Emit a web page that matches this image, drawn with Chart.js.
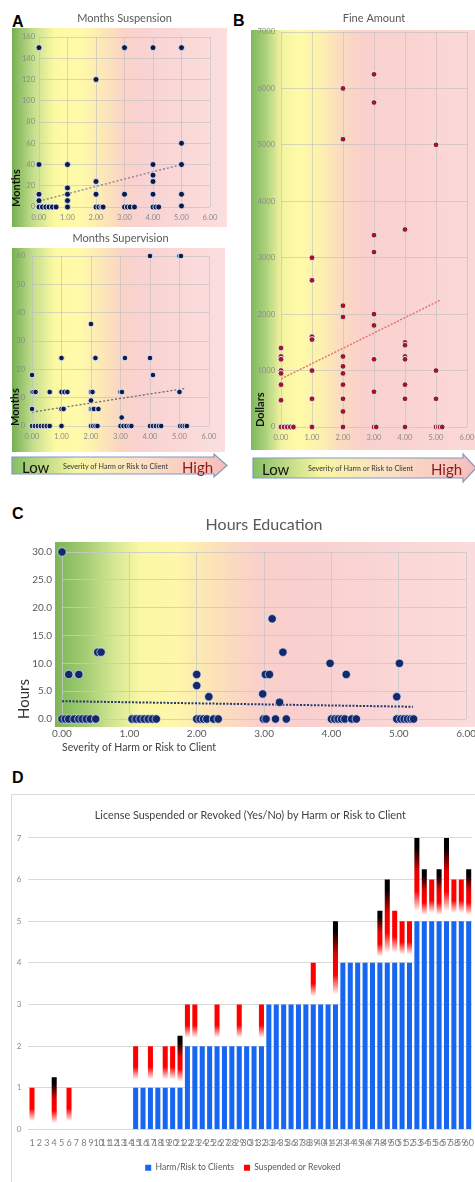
<!DOCTYPE html>
<html><head><meta charset="utf-8">
<script src="https://cdn.jsdelivr.net/npm/chart.js@4.4.0/dist/chart.umd.min.js"></script>
<style>
html,body{margin:0;padding:0;background:#fff;}
body{width:475px;height:1182px;overflow:hidden;position:relative;font-family:Lato,'Open Sans',sans-serif;}
canvas,svg,.pl,.box{position:absolute;}
.pl{font-family:'Liberation Sans',Arial,sans-serif;font-weight:bold;font-size:16px;color:#000;line-height:1;}
</style></head><body>
<div class="pl" style="left:12px;top:14px">A</div>
<div class="pl" style="left:233px;top:13px">B</div>
<div class="pl" style="left:12px;top:506px">C</div>
<div class="pl" style="left:12px;top:770px">D</div>
<canvas id="cSusp" width="235" height="232" style="left:0;top:0"></canvas>
<canvas id="cSup" width="235" height="226" style="left:0;top:230px"></canvas>
<canvas id="cFine" width="245" height="455" style="left:240px;top:0"></canvas>
<canvas id="cEdu" width="485" height="255" style="left:0;top:505px"></canvas>
<div class="box" style="left:11px;top:794px;width:480px;height:400px;border:1px solid #d9d9d9"></div>
<canvas id="cLic" width="470" height="387" style="left:12px;top:795px"></canvas>

<svg style="left:0;top:450px" width="235" height="32">
  <defs><linearGradient id="ag1" x1="0" x2="1" y1="0" y2="0">
    <stop offset="0" stop-color="#86c064"/><stop offset="0.3" stop-color="#f7f5a2"/>
    <stop offset="0.6" stop-color="#fbe0c6"/><stop offset="1" stop-color="#f6bdbd"/></linearGradient></defs>
  <polygon points="12,7 214,7 214,4 227,15.5 214,27 214,24 12,24" fill="url(#ag1)" stroke="#8496bf" stroke-width="1.2"/>
  <text x="22" y="23" font-family="Lato, sans-serif" font-size="15" fill="#111">Low</text>
  <text x="63" y="18.5" font-family="Lato, sans-serif" font-size="7" fill="#333" textLength="105" lengthAdjust="spacingAndGlyphs">Severity of Harm or Risk to Client</text>
  <text x="182" y="23" font-family="Lato, sans-serif" font-size="15" fill="#8b1a1a">High</text>
</svg>
<svg style="left:240px;top:450px" width="245" height="35">
  <defs><linearGradient id="ag2" x1="0" x2="1" y1="0" y2="0">
    <stop offset="0" stop-color="#86c064"/><stop offset="0.3" stop-color="#f7f5a2"/>
    <stop offset="0.6" stop-color="#fbe0c6"/><stop offset="1" stop-color="#f6bdbd"/></linearGradient></defs>
  <polygon points="13,8 223,8 223,4 236,18 223,32 223,28 13,28" fill="url(#ag2)" stroke="#8496bf" stroke-width="1.2"/>
  <text x="22" y="25" font-family="Lato, sans-serif" font-size="15" fill="#111">Low</text>
  <text x="68" y="21" font-family="Lato, sans-serif" font-size="7" fill="#333" textLength="105" lengthAdjust="spacingAndGlyphs">Severity of Harm or Risk to Client</text>
  <text x="191" y="25" font-family="Lato, sans-serif" font-size="15" fill="#8b1a1a">High</text>
</svg>

<script>
// ---------- DATA ----------
// Panel A (top): Months Suspension
const suspSeverity = [0,0,0,0,0,0.12,0.24,0.35,0.47,0.6, 1,1,1,1,1, 2,2,2,2,2.1,2.2,2.25, 3,3,3,3.1,3.2,3.35, 4,4,4,4,4,4,4.1,4.2, 5,5,5,5,5];
const suspMonths   = [150,40,12,6,0,0,0,0,0,0, 40,18,12,6,0, 120,24,12,0,0,0,0, 150,12,0,0,0,0, 150,40,30,24,12,0,0,0, 150,60,40,12,1];
const suspTrendX = [0, 5];
const suspTrendY = [5.6, 40];

// Panel A (bottom): Months Supervision
const supSeverity = [0,0,0.05,0.12,0,0.6,0,0.1,0.2,0.3,0.4,0.5,0.6, 1,1,1.1,1.2,1,1.07,1, 2,2.15,2,2.05,2,2,2.05,2.1,2.25,2,2.07,2.15,2.22, 3.15,3,3.05,3.04,3,3.1,3.2,3.3,3.37, 4,4,4.1,4,4.1,4.2,4.3,4.38, 5,5.05,5,5.02,5.1,5.18,5.25];
const supMonths   = [18,12,12,12,6,12,0,0,0,0,0,0,0, 24,12,12,12,6,6,0, 36,24,12,12,9,6,6,6,6,0,0,0,0, 24,12,12,3,0,0,0,0,0, 60,24,18,0,0,0,0,0, 60,60,12,0,0,0,0];
const supTrendX = [0, 5.17];
const supTrendY = [4.9, 13.2];

// Panel B: Fine Amount
const fineSeverity = [0,0,0,0,0,0,0, 0,0.1,0.2,0.3,0.4, 1,1,1,1,1,1,1, 2,2,2,2,2,2,2,2,2,2,2, 3,3,3,3,3,3,3,3,3,3.07, 4,4,4,4,4,4,4,4, 5,5,5,5,5.07,5.13,5.2];
const fineDollars  = [1400,1250,1200,1000,950,750,475, 0,0,0,0,0, 3000,2600,1600,1550,1000,500,0, 6000,5100,2150,1950,1250,1075,950,750,500,275,0, 6250,5750,3400,3100,2000,1800,1200,625,0,0, 3500,1500,1450,1250,1200,750,500,0, 5000,1000,500,0,0,0,0];
const fineTrendX = [0, 5.12];
const fineTrendY = [852, 2243];

// Panel C: Hours Education
const eduSeverity = [0,0.1,0.25,0.53,0.58, 0,0.05,0.1,0.18,0.25,0.3,0.36,0.42,0.5, 1.04,1.1,1.16,1.22,1.28,1.34,1.4, 2,2,2.18, 2,2.05,2.1,2.15,2.25,2.32, 3.12,3.28,3.02,3.08,2.98,3.23, 2.99,3.03,3.17,3.33, 3.98,4.22, 4,4.05,4.1,4.15,4.2,4.3,4.37, 5.01,4.97, 4.97,5.03,5.08,5.13,5.18,5.22];
const eduHours    = [30,8,8,12,12, 0,0,0,0,0,0,0,0,0, 0,0,0,0,0,0,0, 8,6,4, 0,0,0,0,0,0, 18,12,8,8,4.5,3, 0,0,0,0, 10,8, 0,0,0,0,0,0,0, 10,4, 0,0,0,0,0,0];
const eduTrendX = [0, 5.21];
const eduTrendY = [3.2, 2.2];

// Panel D: License Suspended or Revoked
const caseLabels = ['1','2','3','4','5','6','7','8','9','10','11','12','13','14','15','16','17','18','19','20','21','22','23','24','25','26','27','28','29','30','31','32','33','34','35','36','37','38','39','40','41','42','43','44','45','46','47','48','49','50','51','52','53','54','55','56','57','58','59','60'];
const harmRisk  = [0,0,0,0,0,0,0,0,0,0,0,0,0,0, 1,1,1,1,1,1,1, 2,2,2,2,2,2,2,2,2,2,2, 3,3,3,3,3,3,3,3,3,3, 4,4,4,4,4,4,4,4,4,4, 5,5,5,5,5,5,5,5];
const suspended = [1,0,0,1.25,0,1,0,0,0,0,0,0,0,0, 1,0,1,0,1,1,1.25, 1,1,0,0,1,0,0,1,0,0,1, 0,0,0,0,0,0,1,0,0,2, 0,0,0,0,0,1.25,2,1.25,1,1, 2,1.25,1,1.25,2,1,1,1.25];
const blackTipCases = [4,21,42,48,49,53,54,56,57,60];

// ---------- STYLE ----------
const FONT = "Lato, 'Open Sans', sans-serif";
const NARROW = "'Liberation Sans Narrow', Lato, sans-serif";

const bgPlugin = {
  id: 'bgGrad',
  beforeDraw(chart, args, o) {
    if (!o || !o.rect) return;
    const c = chart.ctx, r = o.rect;
    const g = c.createLinearGradient(r[0], 0, r[2], 0);
    o.stops.forEach(s => g.addColorStop(s[0], s[1]));
    c.save(); c.fillStyle = g; c.fillRect(r[0], r[1], r[2]-r[0], r[3]-r[1]); c.restore();
  }
};

const stopsA = [[0,'#76b053'],[0.1,'#c5df8e'],[0.2,'#fdf9a2'],[0.32,'#fffaaa'],[0.42,'#fce8b6'],[0.52,'#fad3c8'],[0.6,'#f9d2d2'],[1,'#fcdede']];
const stopsB = [[0,'#7fb85c'],[0.06,'#a9d07a'],[0.13,'#f3f3a0'],[0.2,'#fefba8'],[0.3,'#fdf0ae'],[0.38,'#fbdcc0'],[0.48,'#f9d0cc'],[1,'#fbd9d9']];
const stopsC = [[0,'#7cb657'],[0.07,'#a3cc72'],[0.14,'#d6e894'],[0.2,'#fbf8a4'],[0.28,'#fef7aa'],[0.37,'#fce2b8'],[0.47,'#fad0cb'],[0.6,'#f9d0d0'],[1,'#fbdcdc']];

function pts(xs, ys) { return xs.map((x, i) => ({x: x, y: ys[i]})); }

function scatter(id, s) {
  return new Chart(document.getElementById(id), {
    type: 'scatter',
    data: { datasets: [
      { data: pts(s.xs, s.ys), pointRadius: s.r, pointHoverRadius: s.r, clip: false,
        backgroundColor: s.color, borderColor: s.halo, borderWidth: 1, order: 0 },
      { type: 'line', data: pts(s.tx, s.ty), borderColor: s.tColor, borderWidth: s.tWidth,
        borderDash: s.dash, pointRadius: 0, fill: false, order: 1 }
    ]},
    options: {
      responsive: false, animation: false, devicePixelRatio: 1,
      layout: { padding: s.pad },
      plugins: {
        legend: { display: false }, tooltip: { enabled: false },
        title: { display: true, text: s.title, fullSize: false, color: '#595959',
          font: { family: FONT, size: s.titleSize, weight: 'normal', lineHeight: 1.2 },
          padding: s.titlePad },
        bgGrad: { rect: s.bg, stops: s.stops }
      },
      scales: {
        x: { type: 'linear', min: 0, max: 6,
          ticks: { stepSize: 1, callback: v => v.toFixed(2), color: s.tickColor,
            font: { family: FONT, size: s.tickSize }, padding: s.xPad, maxRotation: 0 },
          grid: { color: s.gridColor, drawTicks: false }, border: { display: false },
          title: s.xTitle || { display: false },
          afterFit: sc => { sc.height = s.xH; } },
        y: { min: 0, max: s.yMax,
          ticks: { stepSize: s.yStep, callback: s.yFmt, color: s.tickColor,
            font: { family: FONT, size: s.tickSize }, padding: s.yPad },
          grid: { color: s.gridColor, drawTicks: false }, border: { display: false },
          title: { display: true, text: s.yTitle, align: 'start', color: s.yTitleColor,
            font: { family: FONT, size: s.yTitleSize, weight: s.yTitleWeight, lineHeight: 1.2 },
            padding: { top: s.yTitlePad, bottom: 0 } },
          afterFit: sc => { sc.width = s.yW; } }
      }
    },
    plugins: [bgPlugin]
  });
}

// Panel A top
scatter('cSusp', {
  xs: suspSeverity, ys: suspMonths, tx: suspTrendX, ty: suspTrendY,
  r: 3, color: '#0b1a4a', halo: 'rgba(235,240,255,0.85)',
  tColor: '#8c7898', tWidth: 1.3, dash: [2, 2],
  title: 'Months Suspension', titleSize: 11, titlePad: { top: 12, bottom: 11.8 },
  pad: { left: 0, right: 25, top: 0, bottom: 0 },
  bg: [12, 28, 227, 227], stops: stopsA,
  tickColor: '#8a8a8a', tickSize: 7.5, gridColor: 'rgba(190,190,190,0.6)',
  xPad: 6, yPad: 4, xH: 25, yW: 39, yMax: 160, yStep: 20, yFmt: v => v,
  yTitle: 'Months', yTitleColor: '#111', yTitleSize: 11, yTitleWeight: 'bold', yTitlePad: 9.4
});

// Panel A bottom
scatter('cSup', {
  xs: supSeverity, ys: supMonths, tx: supTrendX, ty: supTrendY,
  r: 2.8, color: '#0b1a4a', halo: 'rgba(235,240,255,0.85)',
  tColor: '#6a6a6a', tWidth: 1.3, dash: [2, 2],
  title: 'Months Supervision', titleSize: 11, titlePad: { top: 1.5, bottom: 11.3 },
  pad: { left: 0, right: 26, top: 0, bottom: 0 },
  bg: [12, 18, 225, 222], stops: stopsA,
  tickColor: '#8a8a8a', tickSize: 7.5, gridColor: 'rgba(190,190,190,0.6)',
  xPad: 6, yPad: 7, xH: 30, yW: 32, yMax: 60, yStep: 10, yFmt: v => v,
  yTitle: 'Months', yTitleColor: '#111', yTitleSize: 11, yTitleWeight: 'bold', yTitlePad: 8.4
});

// Panel B
scatter('cFine', {
  xs: fineSeverity, ys: fineDollars, tx: fineTrendX, ty: fineTrendY,
  r: 2.9, color: '#a3122e', halo: 'rgba(225,250,240,0.9)',
  tColor: '#e07070', tWidth: 1.4, dash: [2, 1.5],
  title: 'Fine Amount', titleSize: 11, titlePad: { top: 12, bottom: 6.8 },
  pad: { left: 0, right: 18, top: 0, bottom: 0 },
  bg: [11, 30, 245, 450], stops: stopsB,
  tickColor: '#8a8a8a', tickSize: 7.5, gridColor: 'rgba(190,190,190,0.6)',
  xPad: 6, yPad: 6, xH: 28, yW: 41, yMax: 7000, yStep: 1000, yFmt: v => v,
  yTitle: 'Dollars', yTitleColor: '#111', yTitleSize: 11, yTitleWeight: 'bold', yTitlePad: 13.4
});

// Panel C
scatter('cEdu', {
  xs: eduSeverity, ys: eduHours, tx: eduTrendX, ty: eduTrendY,
  r: 4.2, color: '#14296a', halo: 'rgba(220,230,255,0.7)',
  tColor: '#25396f', tWidth: 2, dash: [2, 1.5],
  title: 'Hours Education', titleSize: 16, titlePad: { top: 10.4, bottom: 17.4 },
  pad: { left: 0, right: 18, top: 0, bottom: 0 },
  bg: [55, 37, 485, 222], stops: stopsC,
  tickColor: '#595959', tickSize: 10, gridColor: 'rgba(200,200,200,0.8)',
  xPad: 9, yPad: 10, xH: 41, yW: 62, yMax: 30, yStep: 5, yFmt: v => v.toFixed(1),
  xTitle: { display: true, text: 'Severity of Harm or Risk to Client', align: 'start', color: '#404040',
    font: { family: FONT, size: 10.5, lineHeight: 1.2 }, padding: { top: 0, bottom: 6 } },
  yTitle: 'Hours', yTitleColor: '#333', yTitleSize: 15, yTitleWeight: 'normal', yTitlePad: 15
});

// Panel D
const RED = '#ff0000';
function redFill(ctx) {
  if (ctx.type !== 'data') return RED;
  const chart = ctx.chart;
  if (!chart.chartArea) return RED;
  const i = ctx.dataIndex;
  const v = suspended[i];
  if (!v) return RED;
  const ys = chart.scales.y;
  const y0 = ys.getPixelForValue(harmRisk[i]);
  const y1 = ys.getPixelForValue(harmRisk[i] + v);
  const g = chart.ctx.createLinearGradient(0, y0, 0, y1);
  if (blackTipCases.indexOf(i + 1) >= 0) {
    g.addColorStop(0, 'rgba(255,0,0,0)');
    g.addColorStop(0.12, 'rgba(255,0,0,0)');
    g.addColorStop(0.36, 'rgba(255,0,0,1)');
    g.addColorStop(0.6, 'rgba(230,0,0,1)');
    g.addColorStop(0.88, '#000000');
    g.addColorStop(1, '#000000');
  } else {
    g.addColorStop(0, 'rgba(255,0,0,0)');
    g.addColorStop(0.2, 'rgba(255,0,0,0)');
    g.addColorStop(0.5, 'rgba(255,0,0,1)');
    g.addColorStop(1, 'rgba(255,0,0,1)');
  }
  return g;
}

new Chart(document.getElementById('cLic'), {
  type: 'bar',
  data: {
    labels: caseLabels,
    datasets: [
      { label: 'Harm/Risk to Clients', data: harmRisk, backgroundColor: '#1766f2', borderWidth: 0,
        barPercentage: 0.68, categoryPercentage: 1 },
      { label: 'Suspended or Revoked', data: suspended, backgroundColor: redFill, borderWidth: 0,
        barPercentage: 0.68, categoryPercentage: 1 }
    ]
  },
  options: {
    responsive: false, animation: false, devicePixelRatio: 1,
    layout: { padding: { left: 0, right: 8.5, top: 0, bottom: 0 } },
    plugins: {
      tooltip: { enabled: false },
      title: { display: true, text: 'License Suspended or Revoked (Yes/No) by Harm or Risk to Client',
        fullSize: false, color: '#404040', font: { family: FONT, size: 10.8, weight: 'normal', lineHeight: 1.2 },
        padding: { top: 14, bottom: 16 } },
      legend: { position: 'bottom',
        labels: { boxWidth: 6, boxHeight: 6, padding: 10, color: '#595959',
          font: { family: FONT, size: 8.6 },
          generateLabels: chart => {
            const items = Chart.defaults.plugins.legend.labels.generateLabels(chart);
            items.forEach(it => { if (it.datasetIndex === 1) { it.fillStyle = RED; it.strokeStyle = RED; } it.lineWidth = 0; });
            return items;
          } } }
    },
    scales: {
      x: { stacked: true,
        ticks: { autoSkip: false, maxRotation: 0, minRotation: 0, color: '#7f7f7f',
          font: { family: NARROW, size: 9 }, padding: 8 },
        grid: { display: false, drawTicks: false }, border: { display: false },
        afterFit: sc => { sc.height = 24; } },
      y: { stacked: true, min: 0, max: 7,
        ticks: { stepSize: 1, color: '#8c8c8c', font: { family: FONT, size: 8 }, padding: 7 },
        grid: { color: '#d9d9d9', drawTicks: false }, border: { display: false },
        afterFit: sc => { sc.width = 16.3; } }
    }
  }
});
</script>
</body></html>
